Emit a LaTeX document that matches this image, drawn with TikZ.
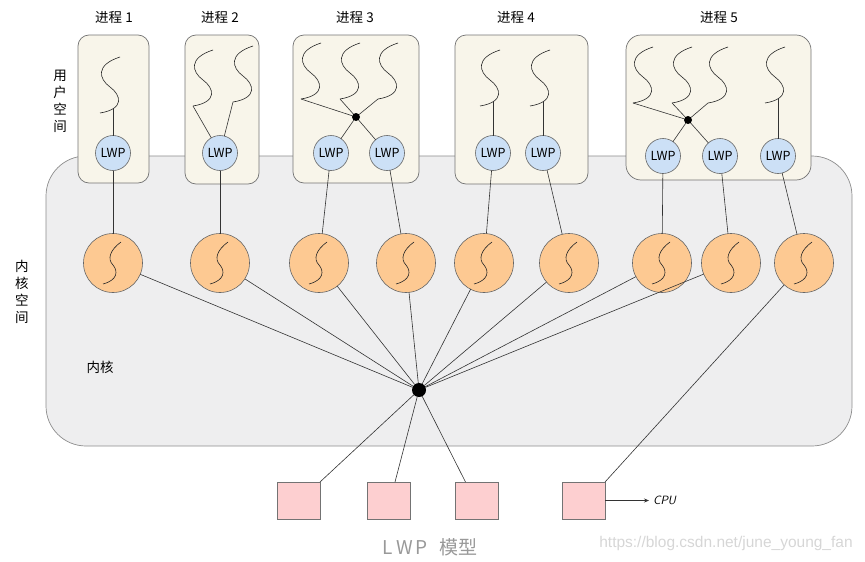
\documentclass[tikz,border=0pt]{standalone}
\usepackage{fontspec}
\setmainfont{Noto Sans CJK SC}
\newfontfamily\wmfont{Liberation Sans}
\usetikzlibrary{arrows.meta}
\definecolor{procfill}{HTML}{F8F5EA}
\definecolor{kernfill}{HTML}{EEEEEF}
\definecolor{lwpfill}{HTML}{CCE0F6}
\definecolor{orangefill}{HTML}{FDC992}
\definecolor{pinkfill}{HTML}{FDCFD0}
\definecolor{capgray}{HTML}{999999}
\definecolor{wmgray}{HTML}{D6D6D6}
\begin{document}
\begin{tikzpicture}[x=1pt,y=-1pt,
  every node/.style={inner sep=0pt, outer sep=0pt},
  kernel/.style={draw=black!45, fill=kernfill, rounded corners=40pt, line width=0.7pt},
  proc/.style={draw=black!55, fill=procfill, rounded corners=11pt, line width=0.7pt},
  lwp/.style={circle, draw=black!60, fill=lwpfill, minimum size=35pt, line width=0.6pt, font=\fontsize{12.5}{14}\selectfont},
  kt/.style={circle, draw=black!60, fill=orangefill, minimum size=59pt, line width=0.6pt},
  cpub/.style={draw=black!55, fill=pinkfill, minimum width=43pt, minimum height=37pt, line width=0.7pt},
  conn/.style={draw=black!80, line width=0.6pt},
  thrline/.style={black!85, line width=0.6pt},
  jdot/.style={circle, fill=black, minimum size=#1},
  lbl/.style={font=\fontsize{13.5}{17}\selectfont, align=center},
  thr/.pic={\draw[thrline] (10,-28) .. controls (-15,-20) and (-11,-6) .. (0,2) .. controls (11,10) and (15,24) .. (-10,28);
    \coordinate (-b) at (-10,28); \coordinate (-m) at (3,23);},
  ksq/.pic={\draw[thrline] (8,-21) .. controls (-3,-13) and (-6,-4) .. (0,2) .. controls (5,8) and (5,17) .. (-10,21);}
]
\useasboundingbox (0,0) rectangle (865,562);
% kernel
\node[kernel, minimum width=806pt, minimum height=290pt] (kern) at (449,301) {};
% process boxes
\node[proc, minimum width=71pt, minimum height=148pt] (p1) at (113.5,109) {};
\node[proc, minimum width=74pt, minimum height=149pt] (p2) at (222,109.5) {};
\node[proc, minimum width=126pt, minimum height=148pt] (p3) at (356,109) {};
\node[proc, minimum width=133pt, minimum height=149pt] (p4) at (521.5,109.5) {};
\node[proc, minimum width=185pt, minimum height=145pt, rounded corners=15pt] (p5) at (718.5,107.5) {};
% labels
\node[lbl] (n1) at (114,17) {进程 1};
\node[lbl] (n2) at (220,17) {进程 2};
\node[lbl] (n3) at (355,17) {进程 3};
\node[lbl] (n4) at (516,17) {进程 4};
\node[lbl] (n5) at (719,17) {进程 5};
\node[lbl] (us) at (60,101) {用\\户\\空\\间};
\node[lbl] (ks) at (22,292) {内\\核\\空\\间};
\node[lbl] (kl) at (100,367) {内核};
% user threads
\pic (t1) at (110,85) {thr};
\pic (t2a) at (203,78) {thr};
\pic (t2b) at (243,74) {thr};
\pic (t3a) at (311,71) {thr};
\pic (t3b) at (350,71) {thr};
\pic (t3c) at (388,71) {thr};
\pic (t4a) at (490,78) {thr};
\pic (t4b) at (540,78) {thr};
\pic (t5a) at (643,75) {thr};
\pic (t5b) at (682,75) {thr};
\pic (t5c) at (718,75) {thr};
\pic (t5d) at (775,75) {thr};
% junction dots
\node[jdot=8pt] (d3) at (356,117) {};
\node[jdot=8pt] (d5) at (688,120) {};
% LWPs
\node[lwp] (l1) at (113,153) {LWP};
\node[lwp] (l2) at (220,153) {LWP};
\node[lwp] (l3) at (331,153) {LWP};
\node[lwp] (l4) at (387,153) {LWP};
\node[lwp] (l5) at (493,153) {LWP};
\node[lwp] (l6) at (543,153) {LWP};
\node[lwp] (l7) at (663,156) {LWP};
\node[lwp] (l8) at (720,156) {LWP};
\node[lwp] (l9) at (778,156) {LWP};
% kernel threads
\foreach \i/\x in {1/113,2/220,3/319,4/406,5/484,6/569,7/662,8/731,9/804}{
  \node[kt] (o\i) at (\x,263) {};
  \pic at (\x,263) {ksq};
}
\node[jdot=14pt] (kd) at (419,390) {};
% CPUs
\node[cpub] (c1) at (298.5,500.5) {};
\node[cpub] (c2) at (389,500.5) {};
\node[cpub] (c3) at (476.5,500.5) {};
\node[cpub] (c4) at (583.5,500.5) {};
\node[font=\sffamily\itshape\fontsize{12}{14}\selectfont, anchor=west] (cpu) at (653,500.5) {CPU};
% connectors
\draw[conn] (t1-m) -- (l1);
\draw[conn] (t2a-b) -- (l2);
\draw[conn] (t2b-b) -- (l2);
\foreach \t in {t3a,t3b,t3c}{\draw[conn] (\t-b) -- (d3);}
\draw[conn] (d3) -- (l3);
\draw[conn] (d3) -- (l4);
\draw[conn] (t4a-m) -- (l5);
\draw[conn] (t4b-m) -- (l6);
\foreach \t in {t5a,t5b,t5c}{\draw[conn] (\t-b) -- (d5);}
\draw[conn] (d5) -- (l7);
\draw[conn] (d5) -- (l8);
\draw[conn] (t5d-m) -- (l9);
\foreach \i in {1,...,9}{\draw[conn] (l\i) -- (o\i);}
\foreach \i in {1,...,8}{\draw[conn] (o\i) -- (kd);}
\draw[conn] (kd) -- (c1.north east);
\draw[conn] (kd) -- ([xshift=6pt]c2.north);
\draw[conn] (kd) -- ([xshift=-11pt]c3.north);
\draw[conn] (o9) -- (c4.north east);
\draw[conn, -{Stealth[length=5pt,width=4pt]}] (c4) -- ([xshift=-4pt]cpu.west);
% caption
\node[font=\fontsize{19}{21}\selectfont, text=capgray] (cap) at (430,547) {L\,W\,P\hspace{0.6em}模型};
\node[font=\wmfont\fontsize{15.5}{17}\selectfont, text=wmgray] (wm) at (726,543) {https://blog.csdn.net/june\_young\_fan};
\end{tikzpicture}
\end{document}
